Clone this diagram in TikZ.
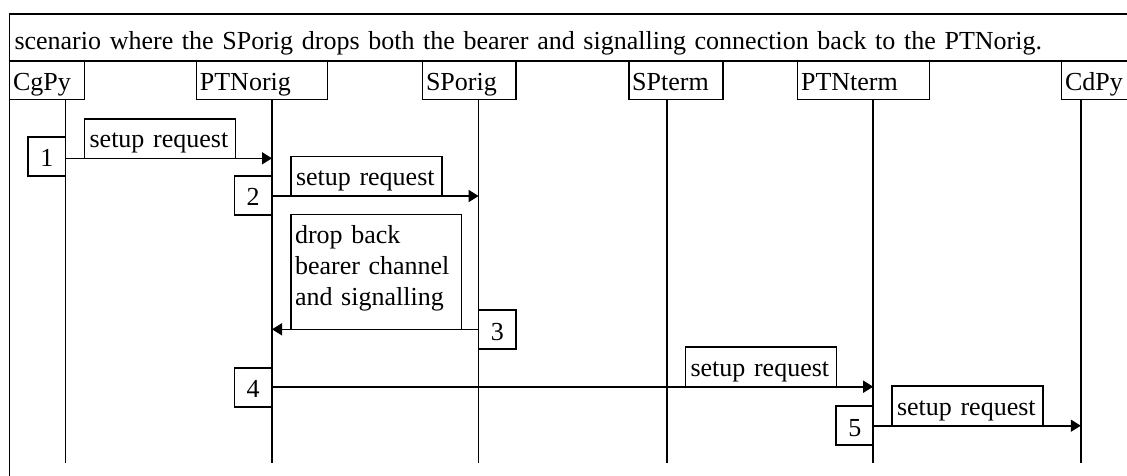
\documentclass[tikz,border=0pt]{standalone}
\usepackage{fontspec}
\setmainfont{Liberation Serif}
\usetikzlibrary{arrows.meta}
\newcommand\figfont{\fontsize{26}{31}\selectfont}
\begin{document}
\begin{tikzpicture}[x=1pt,y=-1pt, line width=1.6pt,
  every node/.style={font=\figfont, outer sep=0pt},
  titlebox/.style={draw, anchor=north west, minimum height=47pt, inner xsep=5pt, inner ysep=0pt, text width=1120pt, align=left, text height=24.5pt, text depth=0.9pt},
  actor/.style={draw, anchor=north west, minimum height=38.3pt, inner xsep=3.5pt, inner ysep=0pt, align=left, text height=22pt, text depth=1pt},
  numbox/.style={draw, minimum width=37.6pt, minimum height=39pt, inner sep=0pt, align=center, text height=22pt, text depth=1pt},
  lblbox/.style={draw, anchor=south west, minimum height=39.5pt, inner xsep=5pt, inner ysep=0pt, text width=141pt, align=left, text height=20pt, text depth=1.6pt},
  notebox/.style={draw, anchor=south west, minimum height=115pt, inner xsep=4.3pt, inner ysep=0pt, text width=162pt, align=left, text height=17.8pt, text depth=75.4pt},
  msg/.style={-{Triangle[length=10pt,width=12pt]}},
  lifeline/.style={line width=1.6pt}]
\useasboundingbox (0,0) rectangle (1127,475);
\fill[white] (0,0) rectangle (1127,475);
\clip (0,0) rectangle (1127,475);
% outer frame and title
\draw (9.5,14) rectangle (1150,495);
\node[titlebox] (title) at (9.5,14) {scenario where the SPorig drops both the bearer and signalling connection back to the PTNorig.};
% actors
\node[actor, text width=68.1pt] (cgpy) at (9.5,61) {CgPy};
\node[actor, text width=124pt] (ptnorig) at (196.4,61) {PTNorig};
\node[actor, text width=86.4pt] (sporig) at (422.5,61) {SPorig};
\node[actor, text width=87.3pt] (spterm) at (628.7,61) {SPterm};
\node[actor, text width=124.9pt] (ptnterm) at (797.6,61) {PTNterm};
\node[actor, text width=72.5pt] (cdpy) at (1061.6,61) {CdPy};
% lifelines
\coordinate (L1t) at (65.4,99.3);  \coordinate (L1b) at (65.4,463.3);
\coordinate (L2t) at (272,99.3);   \coordinate (L2b) at (272,463.3);
\coordinate (L3t) at (478.6,99.3); \coordinate (L3b) at (478.6,463.3);
\coordinate (L4t) at (666.7,99.3); \coordinate (L4b) at (666.7,463.3);
\coordinate (L5t) at (873.2,99.3); \coordinate (L5b) at (873.2,463.3);
\coordinate (L6t) at (1080.8,99.3);\coordinate (L6b) at (1080.8,463.3);
\foreach \i in {1,...,6} \draw[lifeline] (L\i t) -- (L\i b);
% message end points
\coordinate (m1a) at (65.4,158.3);  \coordinate (m1b) at (272,158.3);
\coordinate (m2a) at (272,196);     \coordinate (m2b) at (478.6,196);
\coordinate (m3a) at (478.6,329.3); \coordinate (m3b) at (272,329.3);
\coordinate (m4a) at (272,386.7);   \coordinate (m4b) at (873.2,386.7);
\coordinate (m5a) at (873.2,425.7); \coordinate (m5b) at (1080.8,425.7);
% messages
\draw[msg] (m1a) -- (m1b);
\draw[msg] (m2a) -- (m2b);
\draw[msg] (m3a) -- (m3b);
\draw[msg] (m4a) -- (m4b);
\draw[msg] (m5a) -- (m5b);
% number boxes
\node[numbox, anchor=north east] (n1) at (65.6,136.7) {1};
\node[numbox, anchor=north east] (n2) at (272,175.7) {2};
\node[numbox, anchor=north west] (n3) at (478.6,310) {3};
\node[numbox, anchor=north east] (n4) at (272,367.7) {4};
\node[numbox, anchor=north east] (n5) at (873.6,406) {5};
% labels
\node[lblbox] (t1) at (84.6,158.3) {setup request};
\node[lblbox] (t2) at (291,196) {setup request};
\node[notebox] (t3) at (290.7,329.3) {drop back\\bearer channel\\and signalling};
\node[lblbox] (t4) at (685.5,386.7) {setup request};
\node[lblbox] (t5) at (892,425.7) {setup request};
\end{tikzpicture}
\end{document}
